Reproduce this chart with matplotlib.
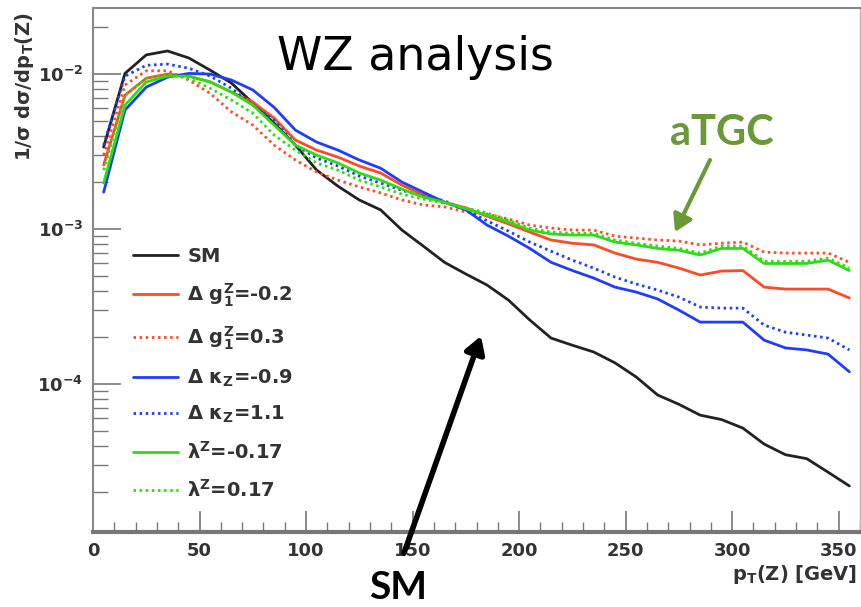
import numpy as np
import matplotlib
matplotlib.use("Agg")
import matplotlib.pyplot as plt
from matplotlib.ticker import FixedLocator, LogLocator, NullFormatter, MultipleLocator

# ---------------- data ----------------
pt = [5, 15, 25, 35, 45, 55, 65, 75, 85, 95, 105, 115, 125, 135, 145, 155, 165, 175,
      185, 195, 205, 215, 225, 235, 245, 255, 265, 275, 285, 295, 305, 315, 325, 335, 345, 355]

sm = [3.38e-3, 1.01e-2, 1.33e-2, 1.41e-2, 1.27e-2, 1.06e-2, 8.75e-3, 6.5e-3, 4.83e-3, 3.48e-3,
      2.40e-3, 1.89e-3, 1.54e-3, 1.33e-3, 9.85e-4, 7.77e-4, 6.1e-4, 5.13e-4, 4.35e-4, 3.48e-4,
      2.59e-4, 1.98e-4, 1.78e-4, 1.61e-4, 1.37e-4, 1.11e-4, 8.5e-5, 7.4e-5, 6.3e-5, 5.9e-5,
      5.2e-5, 4.1e-5, 3.5e-5, 3.3e-5, 2.7e-5, 2.2e-5]

dg1_m02 = [2.59e-3, 7.3e-3, 9.4e-3, 1.0e-2, 9.7e-3, 8.9e-3, 7.65e-3, 6.6e-3, 5.2e-3, 3.75e-3,
           3.23e-3, 2.91e-3, 2.55e-3, 2.30e-3, 1.92e-3, 1.66e-3, 1.49e-3, 1.37e-3, 1.21e-3, 1.08e-3,
           9.56e-4, 8.5e-4, 8.1e-4, 7.9e-4, 7.0e-4, 6.4e-4, 6.1e-4, 5.6e-4, 5.05e-4, 5.36e-4,
           5.4e-4, 4.22e-4, 4.1e-4, 4.1e-4, 4.1e-4, 3.59e-4]

dg1_p03 = [3.0e-3, 8.5e-3, 1.05e-2, 1.05e-2, 9.15e-3, 7.5e-3, 5.7e-3, 4.69e-3, 3.48e-3, 2.79e-3,
           2.33e-3, 2.07e-3, 1.87e-3, 1.71e-3, 1.54e-3, 1.43e-3, 1.39e-3, 1.29e-3, 1.25e-3, 1.16e-3,
           1.06e-3, 1.015e-3, 9.85e-4, 9.85e-4, 9.0e-4, 8.75e-4, 8.5e-4, 8.37e-4, 7.9e-4, 8.1e-4,
           8.24e-4, 7.1e-4, 7.0e-4, 7.0e-4, 7.0e-4, 6.1e-4]

dk_m09 = [1.73e-3, 5.86e-3, 8.24e-3, 9.56e-3, 1.01e-2, 1.0e-2, 9.15e-3, 7.9e-3, 6.1e-3, 4.35e-3,
          3.64e-3, 3.23e-3, 2.79e-3, 2.47e-3, 2.01e-3, 1.73e-3, 1.49e-3, 1.33e-3, 1.06e-3, 9.0e-4,
          7.5e-4, 6.1e-4, 5.4e-4, 4.83e-4, 4.22e-4, 3.92e-4, 3.54e-4, 3.0e-4, 2.51e-4, 2.51e-4,
          2.51e-4, 1.92e-4, 1.71e-4, 1.66e-4, 1.56e-4, 1.2e-4]

dk_p11 = [3.48e-3, 9.7e-3, 1.14e-2, 1.16e-2, 1.09e-2, 9.7e-3, 8.1e-3, 6.3e-3, 5.05e-3, 3.48e-3,
          2.87e-3, 2.55e-3, 2.20e-3, 1.98e-3, 1.78e-3, 1.63e-3, 1.52e-3, 1.33e-3, 1.13e-3, 9.7e-4,
          8.24e-4, 7.2e-4, 6.3e-4, 5.6e-4, 4.9e-4, 4.42e-4, 4.04e-4, 3.64e-4, 3.14e-4, 3.09e-4,
          3.09e-4, 2.4e-4, 2.16e-4, 2.07e-4, 1.98e-4, 1.66e-4]

lam_m017 = [1.98e-3, 6.3e-3, 8.9e-3, 9.7e-3, 9.7e-3, 8.9e-3, 7.65e-3, 6.3e-3, 4.69e-3, 3.48e-3,
            3.0e-3, 2.67e-3, 2.30e-3, 2.07e-3, 1.81e-3, 1.61e-3, 1.49e-3, 1.35e-3, 1.23e-3, 1.11e-3,
            9.85e-4, 9.3e-4, 9.15e-4, 9.15e-4, 8.24e-4, 7.9e-4, 7.5e-4, 7.3e-4, 6.8e-4, 7.5e-4,
            7.5e-4, 6.0e-4, 6.0e-4, 6.0e-4, 6.3e-4, 5.4e-4]

lam_p017 = [2.40e-3, 7.3e-3, 9.4e-3, 1.0e-2, 9.4e-3, 8.1e-3, 6.8e-3, 5.6e-3, 4.04e-3, 3.23e-3,
            2.67e-3, 2.40e-3, 2.07e-3, 1.87e-3, 1.68e-3, 1.56e-3, 1.47e-3, 1.37e-3, 1.27e-3, 1.14e-3,
            1.015e-3, 9.56e-4, 9.4e-4, 9.4e-4, 8.5e-4, 8.1e-4, 7.77e-4, 7.5e-4, 7.0e-4, 7.77e-4,
            7.77e-4, 6.2e-4, 6.2e-4, 6.2e-4, 6.5e-4, 5.6e-4]

labels = ["SM",
          r"$\Delta$ g$_1^Z$=-0.2",
          r"$\Delta$ g$_1^Z$=0.3",
          r"$\Delta$ $\kappa_Z$=-0.9",
          r"$\Delta$ $\kappa_Z$=1.1",
          r"$\lambda^Z$=-0.17",
          r"$\lambda^Z$=0.17"]

x_ticks = [0, 50, 100, 150, 200, 250, 300, 350]
y_ticks = [1e-2, 1e-3, 1e-4]
y_ticklabels = [r"10$^{-2}$", r"10$^{-3}$", r"10$^{-4}$"]

# ---------------- style ----------------
plt.rcParams["font.family"] = ["DejaVu Sans"]
plt.rcParams["font.weight"] = "bold"
plt.rcParams["mathtext.fontset"] = "dejavusans"
plt.rcParams["mathtext.default"] = "bf"

W, H = 861, 607
fig = plt.figure(figsize=(W / 100, H / 100), dpi=100)
L, R, T, B = 93, 860, 8, 532
ax = fig.add_axes([L / W, 1 - B / H, (R - L) / W, (B - T) / H])

BLACK = "#222222"
RED = "#ff4a26"
BLUE = "#1f3cff"
GREEN = "#2ddc12"
TXT = "#333333"
dot = (0, (0.9, 1.3))

series = [
    (sm, BLACK, "-"),
    (dg1_m02, RED, "-"),
    (dg1_p03, RED, dot),
    (dk_m09, BLUE, "-"),
    (dk_p11, BLUE, dot),
    (lam_m017, GREEN, "-"),
    (lam_p017, GREEN, dot),
]
for (vals, col, ls), lab in zip(series, labels):
    ax.plot(pt, vals, color=col, ls=ls, lw=2.0, label=lab, solid_capstyle="round")

ax.set_yscale("log")
ax.set_xlim(0, 360)
ax.set_ylim(1.11e-5, 2.67e-2)

ax.xaxis.set_major_locator(FixedLocator(x_ticks))
ax.xaxis.set_minor_locator(MultipleLocator(10))
ax.set_xticklabels([str(v) for v in x_ticks])
ax.yaxis.set_major_locator(FixedLocator(y_ticks))
ax.set_yticklabels(y_ticklabels)
ax.yaxis.set_minor_locator(LogLocator(base=10, subs=np.arange(2, 10)))
ax.yaxis.set_minor_formatter(NullFormatter())

ax.tick_params(axis="x", which="major", direction="in", length=15, width=1.2,
               color="#777777", labelsize=13, labelcolor=TXT, pad=7)
ax.tick_params(axis="x", which="minor", direction="in", length=7, width=1.0, color="#777777")
ax.tick_params(axis="y", which="major", direction="in", length=20, width=1.2,
               color="#777777", labelsize=13, labelcolor=TXT, pad=7)
ax.tick_params(axis="y", which="minor", direction="in", length=11, width=1.0, color="#777777")

for s in ["left", "top"]:
    ax.spines[s].set_color("#888888")
    ax.spines[s].set_linewidth(1.5)
ax.spines["bottom"].set_color("#777777")
ax.spines["bottom"].set_linewidth(3)
ax.spines["right"].set_color("#d9a8a0")
ax.spines["right"].set_linewidth(1.0)

leg = ax.legend(loc="upper left", bbox_to_anchor=(0.042, 0.559), frameon=False,
                fontsize=14, handlelength=2.3, handletextpad=0.5, labelspacing=0.8,
                borderaxespad=0)
for t in leg.get_texts():
    t.set_color(TXT)

fig.text(25 / W, 1 - 12 / H, r"1/$\sigma$ d$\sigma$/dp$_T$(Z)", rotation=90,
         ha="center", va="top", fontsize=14, color=TXT)
fig.text(857 / W, 1 - 574 / H, r"p$_T$(Z) [GeV]", ha="right", va="center",
         fontsize=14, color=TXT)

fig.text(415 / W, 1 - 70 / H, "WZ analysis", ha="center", va="baseline",
         fontsize=33, family="DejaVu Sans", weight="normal", color="black")
fig.text(722 / W, 1 - 145 / H, "aTGC", ha="center", va="baseline",
         fontsize=30, family="Lato", weight="bold", color="#6a9a38")
fig.text(398 / W, 1 - 599 / H, "SM", ha="center", va="baseline",
         fontsize=28, family="Lato", weight="bold", color="black")

fig.patches.append(matplotlib.patches.FancyArrowPatch(
    (404 / W, 1 - 553 / H), (481 / W, 1 - 336 / H), transform=fig.transFigure,
    arrowstyle="-|>,head_length=10,head_width=6", lw=4, color="black",
    shrinkA=0, shrinkB=0))
fig.patches.append(matplotlib.patches.FancyArrowPatch(
    (710 / W, 1 - 160 / H), (675 / W, 1 - 232 / H), transform=fig.transFigure,
    arrowstyle="-|>,head_length=10,head_width=6", lw=3, color="#6a9a38",
    shrinkA=0, shrinkB=0))

fig.savefig("out.png", dpi=100)
